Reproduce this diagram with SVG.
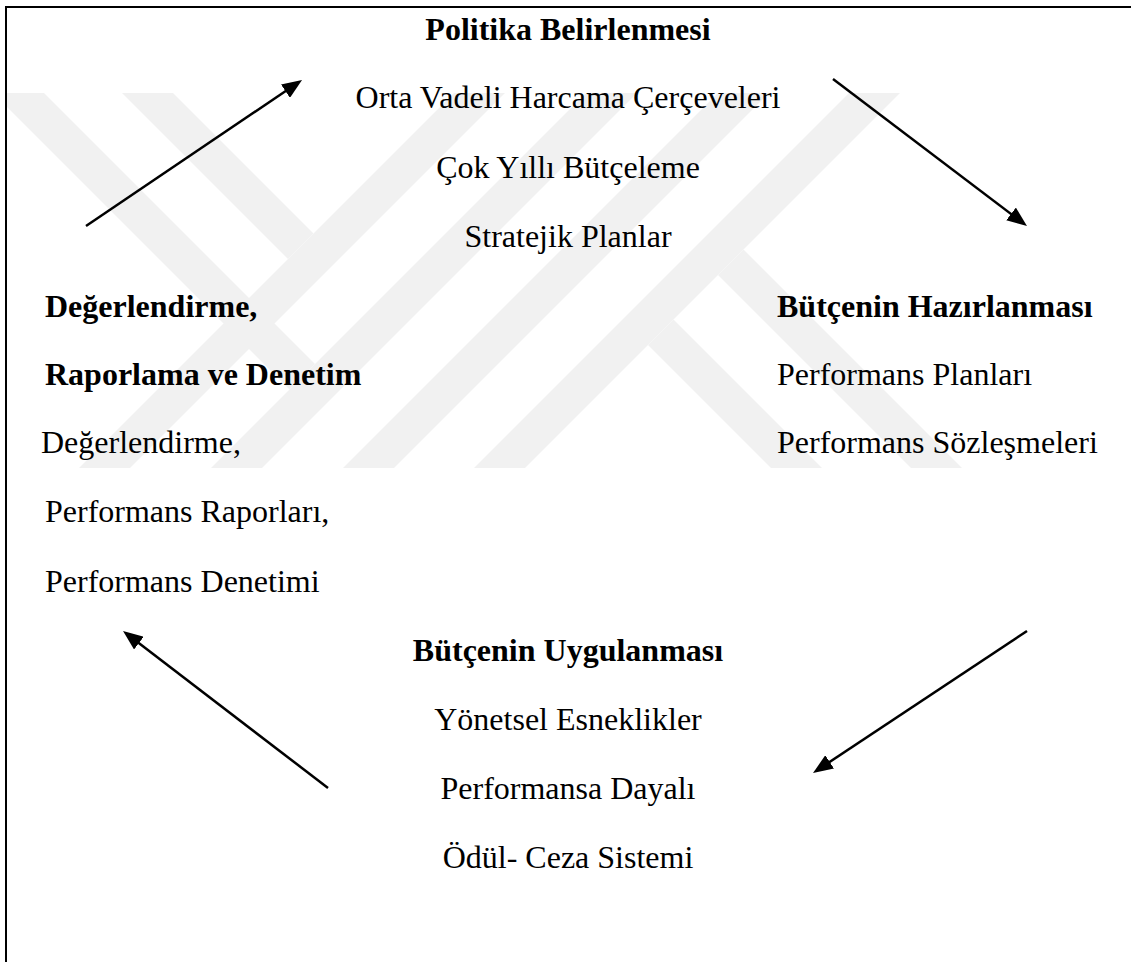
<svg xmlns="http://www.w3.org/2000/svg" width="1131" height="962" viewBox="0 0 1131 962">
<defs>
<style>
text{font-family:"Liberation Serif","Times New Roman",serif;font-size:32px;fill:#000}
.b{font-weight:bold}
.c{text-anchor:middle}
.conn line{stroke:#000;stroke-width:2.5;fill:none;marker-end:url(#ah)}
.frame{stroke:#000;stroke-width:2;fill:none}
.wm polygon{fill:#f1f1f1}
</style>
<marker id="ah" viewBox="0 0 20 16" refX="15" refY="8" markerWidth="20" markerHeight="16" orient="auto" markerUnits="userSpaceOnUse">
<path d="M0,0 L20,8 L0,16 z" fill="#000"/>
</marker>
<clipPath id="wmclip"><rect x="7" y="93" width="1124" height="375"/></clipPath>
</defs>
<rect width="1131" height="962" fill="#fff"/>
<g id="watermark" class="wm" clip-path="url(#wmclip)">
<polygon points="454,93 505,93 130,468 79,468"/>
<polygon points="586,93 637,93 262,468 211,468"/>
<polygon points="718,93 769,93 394,468 343,468"/>
<polygon points="849,93 900,93 525,468 474,468"/>
<polygon points="-7,93 44,93 315,364 289.5,389.5"/>
<polygon points="122,93 173,93 313.5,233.5 288,259"/>
<polygon points="673.5,319.5 822,468 771,468 648,345"/>
<polygon points="743.5,249.5 962,468 911,468 718,275"/>
</g>
<path class="frame" d="M1131,7 H6 V962"/>
<g id="policy">
<text class="b c" x="568" y="40">Politika Belirlenmesi</text>
<text class="c" x="568" y="108">Orta Vadeli Harcama Çerçeveleri</text>
<text class="c" x="568" y="178">Çok Yıllı Bütçeleme</text>
<text class="c" x="568" y="247">Stratejik Planlar</text>
</g>
<g id="preparation">
<text class="b" x="777" y="317">Bütçenin Hazırlanması</text>
<text x="777" y="385">Performans Planları</text>
<text x="777" y="453">Performans Sözleşmeleri</text>
</g>
<g id="implementation">
<text class="b c" x="568" y="661">Bütçenin Uygulanması</text>
<text class="c" x="568" y="730">Yönetsel Esneklikler</text>
<text class="c" x="568" y="799">Performansa Dayalı</text>
<text class="c" x="568" y="868">Ödül- Ceza Sistemi</text>
</g>
<g id="evaluation">
<text class="b" x="45" y="317">Değerlendirme,</text>
<text class="b" x="45" y="385">Raporlama ve Denetim</text>
<text x="41" y="453">Değerlendirme,</text>
<text x="45" y="522">Performans Raporları,</text>
<text x="45" y="592">Performans Denetimi</text>
</g>
<g id="connectors" class="conn">
<line x1="86" y1="226" x2="297.9" y2="82.8"/>
<line x1="833" y1="79" x2="1023" y2="223"/>
<line x1="1027" y1="631" x2="817.2" y2="770.2"/>
<line x1="328" y1="788" x2="127" y2="634"/>
</g>
</svg>
